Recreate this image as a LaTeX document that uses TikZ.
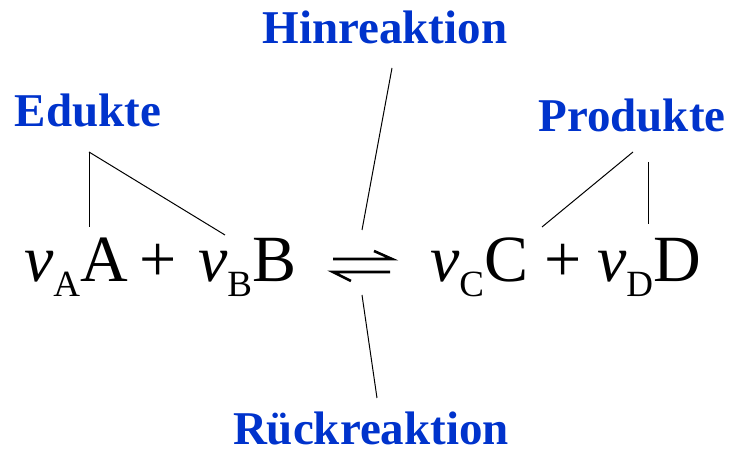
\documentclass[tikz,border=0pt]{standalone}
\usepackage{fontspec}
\setmainfont{Liberation Serif}
\usetikzlibrary{calc,positioning}
\definecolor{labblue}{HTML}{0033CC}
\newcommand{\coef}[2]{{\itshape ν}\raisebox{-15pt}{\fontsize{37}{37}\selectfont #1}#2}
\tikzset{lab/.style={font=\fontsize{47}{50}\selectfont\bfseries, text=labblue, inner sep=0pt, anchor=base}, term/.style={font=\fontsize{66}{70}\selectfont, inner sep=0pt, anchor=base west}, link/.style={line width=1pt}, harp/.style={line width=2.6pt, line join=miter}}

\begin{document}
\begin{tikzpicture}[x=1pt,y=1pt]
\useasboundingbox (0,0) rectangle (729,454);
% equation
\node[term] (termA) at (24,172) {\coef{A}{A}};
\node[term] (plusA) at (139,172) {+};
\node[term] (termB) at (198,172) {\coef{B}{B}};
\coordinate (eqarrow) at (362,188);
\node[term] (termC) at (430,172) {\coef{C}{C}};
\node[term] (plusC) at (544,172) {+};
\node[term] (termD) at (597,172) {\coef{D}{D}};
\draw[harp] ($(eqarrow)+(-29,7)$) -- ++(59,0) -- ++(-18,8);
\draw[harp] ($(eqarrow)+(28,-6)$) -- ++(-57,0) -- ++(18,-9);
% labels
\node[lab] (edukte) at (88,327) {Edukte};
\node[lab] (produkte) at (632,322) {Produkte};
\node[lab] (hin) at (385,410) {Hinreaktion};
\node[lab, text depth=0pt] (rueck) at (371,9) {Rückreaktion};
% links
\coordinate (ejoin) at ($(edukte.base)+(1,-25)$);
\coordinate (pjoin) at ($(produkte.base)+(1,-20)$);
\draw[link] (ejoin) -- (89,227); \draw[link] (ejoin) -- (225,219);
\draw[link] (pjoin) -- (542,227); \draw[link] (648,292) -- (648,230);
\draw[link] ($(hin.base)+(7,-24)$) -- ($(eqarrow)+(0,36)$);
\draw[link] ($(eqarrow)+(0,-29)$) -- ($(rueck.base)+(6,47)$);
\end{tikzpicture}
\end{document}
